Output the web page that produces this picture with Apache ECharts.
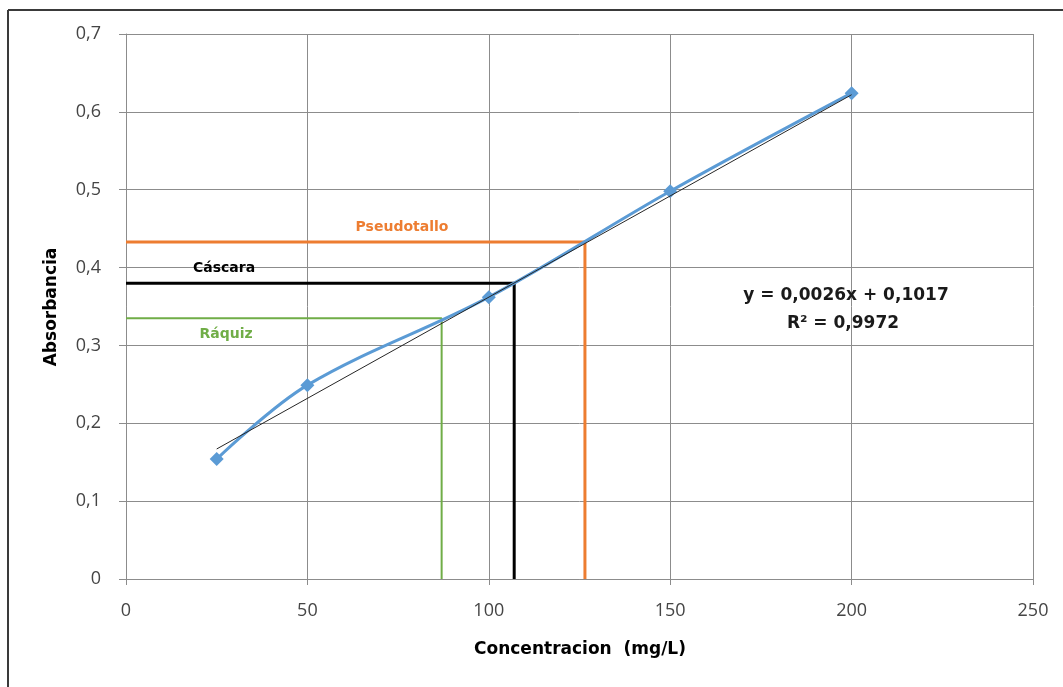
<!DOCTYPE html>
<html>
<head>
<meta charset="utf-8">
<script src="https://cdn.jsdelivr.net/npm/echarts@6/dist/echarts.min.js"></script>
<style>html,body{margin:0;padding:0;background:#fff}#c{width:1063px;height:687px}</style>
</head>
<body>
<div id="c"></div>
<script>
// Calibration data
const concentrations = [25, 50, 100, 150, 200];
const absorbances = [0.154, 0.249, 0.362, 0.498, 0.624];
// Linear trendline endpoints (y = 0,0026x + 0,1017)
const trendX = [25, 200];
const trendY = [0.167, 0.622];
// Sample read-offs
const sampleNames = ['Pseudotallo', 'Cáscara', 'Ráquiz'];
const sampleConc = [126.5, 107, 87];
const sampleAbs = [0.433, 0.380, 0.335];
const sampleColors = ['#ED7D31', '#000000', '#70AD47'];
// Axis ticks
const xTicks = [0, 50, 100, 150, 200, 250];
const yTicks = [0, 0.1, 0.2, 0.3, 0.4, 0.5, 0.6, 0.7];
const equationText = 'y = 0,0026x + 0,1017';
const r2Text = 'R² = 0,9972';

const chart = echarts.init(document.getElementById('c'), null, {renderer: 'canvas'});
const fmt = v => String(Math.round(v * 10) / 10).replace('.', ',');
const labelPos = [[402, 227], [224, 268], [226, 334]];
const lineWidths = [3, 3, 2];

const sampleSeries = sampleNames.map((n, i) => ({
  name: n, type: 'line', symbol: 'none', animation: false, z: 3,
  lineStyle: {color: sampleColors[i], width: lineWidths[i]},
  data: [[0, sampleAbs[i]], [sampleConc[i], sampleAbs[i]], [sampleConc[i], 0]]
}));

const boldFont = size => 'bold ' + size + 'px "DejaVu Sans"';

const option = {
  animation: false,
  backgroundColor: '#fff',
  grid: {left: 126, top: 34, right: 30, bottom: 108, containLabel: false},
  xAxis: {
    type: 'value', min: xTicks[0], max: xTicks[xTicks.length - 1], interval: 50,
    axisLine: {show: true, lineStyle: {color: '#8c8c8c', width: 1}},
    axisTick: {show: true, length: 6, lineStyle: {color: '#8c8c8c'}},
    splitLine: {show: true, lineStyle: {color: '#8c8c8c', width: 1}},
    axisLabel: {color: '#454545', fontSize: 18, fontFamily: 'Open Sans', margin: 23, formatter: v => String(v)}
  },
  yAxis: {
    type: 'value', min: yTicks[0], max: yTicks[yTicks.length - 1], interval: 0.1,
    axisLine: {show: true, lineStyle: {color: '#8c8c8c', width: 1}},
    axisTick: {show: true, length: 7, lineStyle: {color: '#8c8c8c'}},
    splitLine: {show: true, lineStyle: {color: '#8c8c8c', width: 1}},
    axisLabel: {color: '#454545', fontSize: 18, fontFamily: 'Open Sans', margin: 25, formatter: fmt}
  },
  series: [
    ...sampleSeries,
    {
      name: 'Trend', type: 'line', symbol: 'none', z: 5,
      lineStyle: {color: '#262626', width: 1},
      data: trendX.map((x, i) => [x, trendY[i]])
    },
    {
      name: 'Absorbancia', type: 'line', smooth: 0.35, z: 4,
      symbol: 'diamond', symbolSize: 14,
      itemStyle: {color: '#5B9BD5'},
      lineStyle: {color: '#5B9BD5', width: 3},
      data: concentrations.map((x, i) => [x, absorbances[i]])
    }
  ],
  graphic: [
    {type: 'line', shape: {x1: 8, y1: 10, x2: 1063, y2: 10}, style: {stroke: '#3a3a3a', lineWidth: 2}},
    {type: 'line', shape: {x1: 8, y1: 10, x2: 8, y2: 687}, style: {stroke: '#3a3a3a', lineWidth: 2}},
    ...sampleNames.map((n, i) => ({
      type: 'text', x: labelPos[i][0], y: labelPos[i][1], z: 10,
      style: {text: n, fill: sampleColors[i], font: boldFont(14), textAlign: 'center', textVerticalAlign: 'middle'}
    })),
    {type: 'text', x: 846, y: 296, z: 10, style: {text: equationText, fill: '#1a1a1a', font: boldFont(17), textAlign: 'center', textVerticalAlign: 'middle'}},
    {type: 'text', x: 843, y: 324, z: 10, style: {text: r2Text, fill: '#1a1a1a', font: boldFont(17), textAlign: 'center', textVerticalAlign: 'middle'}},
    {type: 'text', x: 580, y: 650, z: 10, style: {text: 'Concentracion  (mg/L)', fill: '#000', font: boldFont(17), textAlign: 'center', textVerticalAlign: 'middle'}},
    {type: 'text', x: 52, y: 307, rotation: Math.PI / 2, z: 10, style: {text: 'Absorbancia', fill: '#000', font: boldFont(17), textAlign: 'center', textVerticalAlign: 'middle'}}
  ]
};
chart.setOption(option);
</script>
</body>
</html>
